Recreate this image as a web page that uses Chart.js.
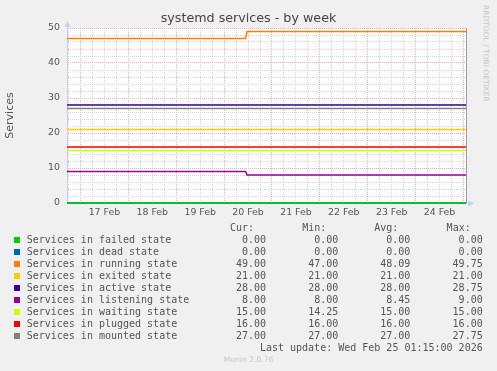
<!DOCTYPE html>
<html><head><meta charset="utf-8">
<script src="https://cdn.jsdelivr.net/npm/chart.js@4/dist/chart.umd.min.js"></script>
<style>
html,body{margin:0;padding:0;background:#f0f0f0;}
#wrap{position:relative;width:497px;height:371px;overflow:hidden;background:#f0f0f0;}
canvas{position:absolute;left:0;top:0;}
.t{position:absolute;font-family:"DejaVu Sans Mono",monospace;font-size:10px;line-height:12px;height:12px;color:#555;white-space:pre;}
.sw{position:absolute;width:6px;height:6px;}
#rrd{position:absolute;left:486px;top:5px;transform-origin:0 0;transform:rotate(90deg) translateY(-50%);font-family:"DejaVu Sans",sans-serif;font-size:7.5px;line-height:9px;color:#c4c4c4;white-space:pre;}
#munin{position:absolute;left:0;width:497px;text-align:center;top:355px;font-family:"DejaVu Sans",sans-serif;font-size:7.6px;line-height:10px;color:#c8c8c8;}
</style></head><body>
<div id="wrap"><canvas id="c" width="497" height="371"></canvas><div id="leg"></div>
<div id="rrd">RRDTOOL / TOBI OETIKER</div><div id="munin">Munin 2.0.76</div></div>
<script>
// ---- data ----
const chartTitle = 'systemd services - by week';
const yAxisTitle = 'Services';
// sample times in hours since 16 Feb 00:00 (window: 16 Feb 17:15 -> 25 Feb 01:15)
const hours = [17.25, 106.75, 107.5, 181.75, 182.25, 182.75, 217.25];
const dayLabels = ['16 Feb','17 Feb','18 Feb','19 Feb','20 Feb','21 Feb','22 Feb','23 Feb','24 Feb','25 Feb'];
const seriesLabels = ['Services in failed state','Services in dead state','Services in running state','Services in exited state','Services in active state','Services in listening state','Services in waiting state','Services in plugged state','Services in mounted state'];
const seriesColors = ['#00CC00','#0066B3','#FF8000','#FFCC00','#330099','#990099','#CCFF00','#FF0000','#808080'];
const failed    = [0, 0, 0, 0, 0, 0, 0];
const dead      = [0, 0, 0, 0, 0, 0, 0];
const running   = [47, 47, 49, 49, 49, 49, 49];
const exited    = [21, 21, 21, 21, 21, 21, 21];
const active    = [28, 28, 28, 28, 28, 28, 28];
const listening = [9, 9, 8, 8, 8, 8, 8];
const waiting   = [15, 15, 15, 15, 14.7, 15, 15];
const plugged   = [16, 16, 16, 16, 16, 16, 16];
const mounted   = [27, 27, 27, 27, 27, 27, 27];
const curVals = ['0.00','0.00','49.00','21.00','28.00','8.00','15.00','16.00','27.00'];
const minVals = ['0.00','0.00','47.00','21.00','28.00','8.00','14.25','16.00','27.00'];
const avgVals = ['0.00','0.00','48.09','21.00','28.00','8.45','15.00','16.00','27.00'];
const maxVals = ['0.00','0.00','49.75','21.00','28.75','9.00','15.00','16.00','27.75'];
const colHeaders = ['Cur:','Min:','Avg:','Max:'];
const lastUpdate = 'Last update: Wed Feb 25 01:15:00 2026';

const seriesValues = [failed, dead, running, exited, active, listening, waiting, plugged, mounted];

const GRID = '#d4d4d4', MGRID = '#f0b0b0', AXIS = '#c8d0f0';

const datasets = seriesValues.map((vals, i) => ({
  label: seriesLabels[i],
  data: vals.map((v, k) => ({x: hours[k], y: v})),
  borderColor: seriesColors[i],
  backgroundColor: seriesColors[i],
  borderWidth: 1.5,
  pointRadius: 0,
  tension: 0,
  fill: false,
  clip: false
}));

const frame = {
  id: 'frame',
  beforeDraw(chart) {
    const {ctx, chartArea: a} = chart;
    ctx.save();
    ctx.fillStyle = '#ffffff';
    ctx.fillRect(a.left, a.top, a.right - a.left, a.bottom - a.top);
    ctx.restore();
  },
  afterDraw(chart) {
    const {ctx, chartArea: a} = chart;
    ctx.save();
    ctx.strokeStyle = '#9c9c9c'; ctx.lineWidth = 1;
    const rx = Math.round(a.right) + 0.5;
    ctx.beginPath(); ctx.moveTo(rx, a.top); ctx.lineTo(rx, a.bottom); ctx.stroke();
    ctx.fillStyle = AXIS;
    const lx = Math.round(a.left) + 0.5;
    ctx.beginPath(); ctx.moveTo(lx, a.top - 7); ctx.lineTo(lx - 3, a.top - 1); ctx.lineTo(lx + 3, a.top - 1); ctx.closePath(); ctx.fill();
    ctx.fillRect(lx - 0.5, a.top - 2, 1, 3);
    const by = Math.round(a.bottom) + 0.5;
    ctx.fillRect(a.right, by - 0.5, 3, 1);
    ctx.beginPath(); ctx.moveTo(a.right + 8, by); ctx.lineTo(a.right + 2, by - 3); ctx.lineTo(a.right + 2, by + 3); ctx.closePath(); ctx.fill();
    ctx.restore();
  }
};

new Chart(document.getElementById('c'), {
  type: 'line',
  data: {datasets},
  plugins: [frame],
  options: {
    responsive: false,
    animation: false,
    events: [],
    layout: {padding: 0},
    plugins: {
      legend: {display: false},
      tooltip: {enabled: false},
      title: {display: true, text: chartTitle, color: '#444',
        font: {family: 'DejaVu Sans', size: 12.7, weight: 'normal', lineHeight: 1.2},
        padding: {top: 11, bottom: 1.76}}
    },
    scales: {
      x: {
        type: 'linear', min: hours[0], max: hours[hours.length - 1],
        afterFit(s) { s.height = 168; },
        ticks: {stepSize: 6, maxTicksLimit: 100, autoSkip: false, includeBounds: false, maxRotation: 0,
          padding: 4, color: '#555', font: {family: 'DejaVu Sans', size: 9.4},
          callback: v => (v % 24 === 12 ? dayLabels[Math.floor(v / 24)] : '')},
        grid: {drawTicks: false, lineWidth: 1,
          color: c => (c.tick && c.tick.value % 24 === 0 ? MGRID : GRID)},
        border: {display: true, color: AXIS, width: 1, dash: [1, 1]}
      },
      y: {
        min: 0, max: 50,
        afterFit(s) { s.width = 67; },
        ticks: {stepSize: 2, maxTicksLimit: 100, autoSkip: false, padding: 7, color: '#555',
          font: {family: 'DejaVu Sans', size: 9.4},
          callback: v => (v % 10 === 0 ? String(v) : '')},
        grid: {drawTicks: false, lineWidth: 1,
          color: c => (c.tick && c.tick.value % 10 === 0 ? MGRID : GRID)},
        border: {display: true, color: AXIS, width: 1, dash: [1, 1]},
        title: {display: true, text: yAxisTitle, color: '#555',
          font: {family: 'DejaVu Sans', size: 11, lineHeight: 1.2}, padding: {top: 4, bottom: 0}}
      },
      yRight: {
        position: 'right', min: 0, max: 50,
        afterFit(s) { s.width = 31; },
        ticks: {display: false}, grid: {display: false}, border: {display: false}
      }
    }
  }
});

// ---- legend table ----
const leg = document.getElementById('leg');
function addText(txt, cy, left, right) {
  const d = document.createElement('div');
  d.className = 't';
  d.textContent = txt;
  d.style.top = (cy - 6) + 'px';
  if (right !== undefined) { d.style.right = (497 - right) + 'px'; d.style.textAlign = 'right'; }
  else d.style.left = left + 'px';
  leg.appendChild(d);
}
const valRights = [266, 338.3, 410.3, 482.7];
colHeaders.forEach((h, j) => addText(h, 227.7, undefined, valRights[j] - 12));
seriesLabels.forEach((lab, i) => {
  const cy = 239.7 + i * 12;
  const sw = document.createElement('div');
  sw.className = 'sw'; sw.style.left = '14px'; sw.style.top = (cy - 3) + 'px';
  sw.style.background = seriesColors[i];
  leg.appendChild(sw);
  addText(lab, cy, 26.7);
  [curVals, minVals, avgVals, maxVals].forEach((arr, j) => addText(arr[i], cy, undefined, valRights[j]));
});
addText(lastUpdate, 347.7, undefined, 482.7);
</script>
</body></html>
